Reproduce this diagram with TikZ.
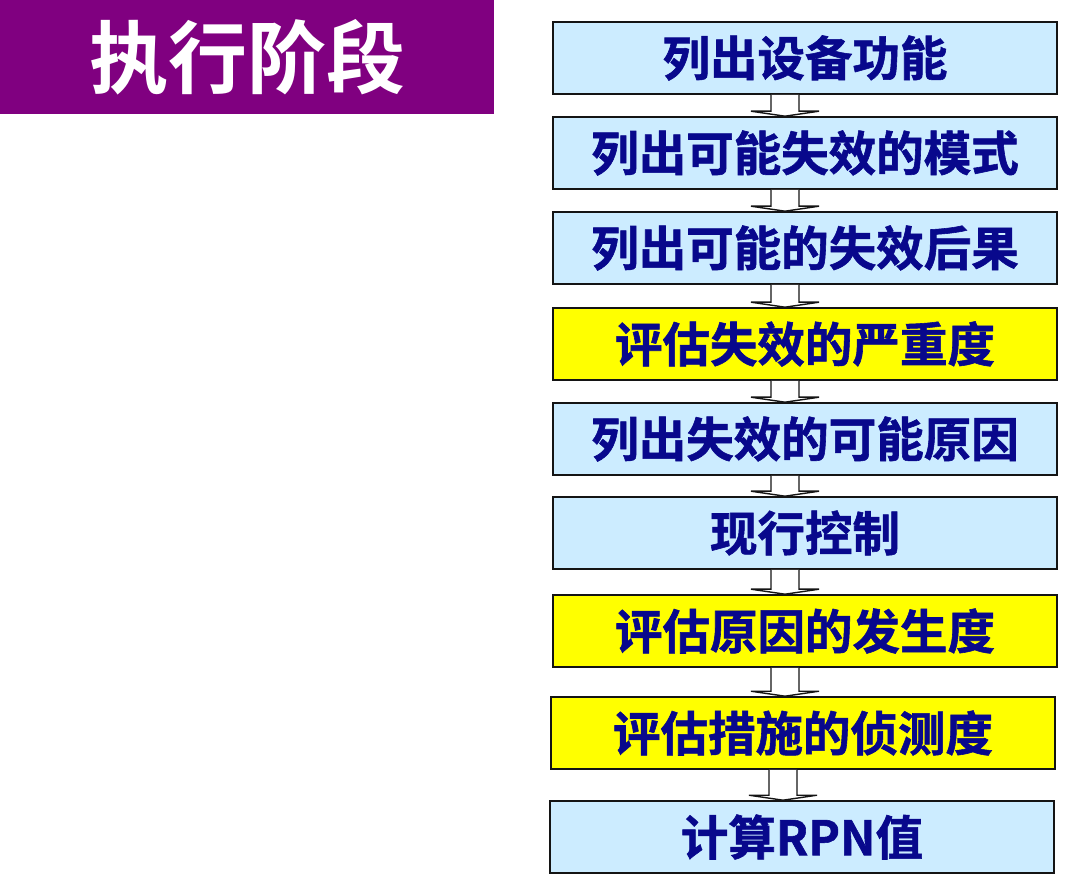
\documentclass[tikz,border=0pt]{standalone}
\usepackage{fontspec}
\newfontfamily\cjk{Noto Sans CJK SC}[BoldFont={Noto Sans CJK SC Bold}]
\newfontfamily\cjkheavy{Noto Sans CJK SC Bold}[FakeBold=1.2]
\usetikzlibrary{calc}
\definecolor{titlepurple}{RGB}{128,0,128}
\definecolor{boxblue}{RGB}{204,236,255}
\definecolor{boxyellow}{RGB}{255,255,0}
\definecolor{navytext}{RGB}{8,8,140}
\definecolor{edge}{RGB}{20,20,20}
\tikzset{
  stepbox/.style={draw=edge, line width=1.6pt, minimum width=504pt, minimum height=72pt,
    inner sep=0pt, text=navytext, font=\cjkheavy\fontsize{47.5pt}{50pt}\selectfont},
  bluebox/.style={stepbox, fill=boxblue},
  yellowbox/.style={stepbox, fill=boxyellow},
  blockarrow/.style={draw=edge, line width=1.4pt, fill=white, line join=miter},
}
\newcommand{\flowarrow}[2]{%
  \path let \p1=(#1.south), \p2=(#2.north) in
    [blockarrow] (\x1-34pt,\y1) -- (\x1-34pt,\y2+5pt) -- (\x1-54pt,\y2+5pt)
    -- (\x1-20pt,\y2) -- (\x1+14pt,\y2+5pt) -- (\x1-6pt,\y2+5pt) -- (\x1-6pt,\y1);
}
\begin{document}
\begin{tikzpicture}[x=1pt,y=-1pt]
\useasboundingbox (0,0) rectangle (1080,874);
\fill[white] (0,0) rectangle (1080,874);
% title
\node[fill=titlepurple, minimum width=494pt, minimum height=114pt, inner sep=0pt,
      anchor=north west, text=white, font=\cjk\bfseries\fontsize{79pt}{82pt}\selectfont]
      (title) at (0,0) {执行阶段};
% steps
\node[bluebox]   (b1) at (805,58)  {列出设备功能};
\node[bluebox]   (b2) at (805,153) {列出可能失效的模式};
\node[bluebox]   (b3) at (805,248) {列出可能的失效后果};
\node[yellowbox] (b4) at (805,344) {评估失效的严重度};
\node[bluebox]   (b5) at (805,439) {列出失效的可能原因};
\node[bluebox]   (b6) at (805,533) {现行控制};
\node[yellowbox] (b7) at (805,631) {评估原因的发生度};
\node[yellowbox] (b8) at (803,733) {评估措施的侦测度};
\node[bluebox]   (b9) at (802,837) {计算RPN值};
% arrows
\flowarrow{b1}{b2}
\flowarrow{b2}{b3}
\flowarrow{b3}{b4}
\flowarrow{b4}{b5}
\flowarrow{b5}{b6}
\flowarrow{b6}{b7}
\flowarrow{b7}{b8}
\flowarrow{b8}{b9}
\end{tikzpicture}
\end{document}
